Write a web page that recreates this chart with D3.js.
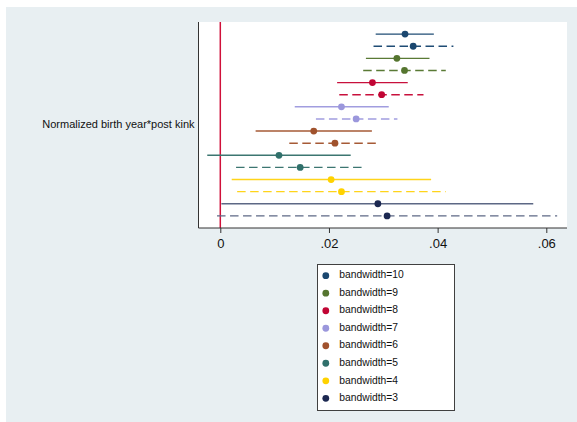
<!DOCTYPE html>
<html>
<head>
<meta charset="utf-8">
<script src="https://cdn.jsdelivr.net/npm/d3@7"></script>
<style>
  html, body { margin: 0; padding: 0; background: #ffffff; }
  svg { display: block; font-family: "Liberation Sans", Arial, sans-serif; }
</style>
</head>
<body>
<svg id="chart" width="577" height="422"></svg>
<script>
// Coefficient on normalized birth year * post kink, by bandwidth
const bandwidths = [10, 9, 8, 7, 6, 5, 4, 3];
// Solid lines: first specification
const estSolid = [0.0340, 0.0325, 0.0280, 0.0223, 0.0172, 0.0108, 0.0204, 0.0290];
const loSolid  = [0.0286, 0.0268, 0.0215, 0.0137, 0.0065, -0.0024, 0.0021, 0.0002];
const hiSolid  = [0.0393, 0.0385, 0.0345, 0.0310, 0.0279, 0.0240, 0.0388, 0.0576];
// Dashed lines: second specification
const estDash = [0.0355, 0.0339, 0.0297, 0.0250, 0.0211, 0.0147, 0.0223, 0.0307];
const loDash  = [0.0282, 0.0263, 0.0219, 0.0176, 0.0127, 0.0029, 0.0031, -0.0006];
const hiDash  = [0.0429, 0.0415, 0.0374, 0.0326, 0.0294, 0.0266, 0.0415, 0.0620];

const xTicks = [0, 0.02, 0.04, 0.06];
const xTickLabels = ["0", ".02", ".04", ".06"];
const yLabel = "Normalized birth year*post kink";

const markerColors = ["#1a476f", "#55752f", "#c10534", "#9b97dc", "#a0522d", "#30706b", "#ffd200", "#1c2851"];
const lineColors   = ["#1f4c75", "#5a7a35", "#c8103c", "#a19ddf", "#a65a36", "#3c7671", "#ffd41a", "#5d6885"];

const svg = d3.select("#chart");

// Outer panel background
svg.append("rect").attr("x", 6).attr("y", 7).attr("width", 571).attr("height", 415)
  .attr("fill", "#e8eff2");

const plot = { left: 198.5, right: 567, top: 22, bottom: 228 };

svg.append("rect")
  .attr("x", plot.left).attr("y", plot.top)
  .attr("width", plot.right - plot.left).attr("height", plot.bottom - plot.top)
  .attr("fill", "#ffffff");

const x = d3.scaleLinear().domain([0, 0.06]).range([220.3, 546.3]);

// one row per (bandwidth, specification) pair
const rows = [];
bandwidths.forEach((bw, i) => {
  rows.push({ key: bw + "s", bw, i, est: estSolid[i], lo: loSolid[i], hi: hiSolid[i], dashed: false });
  rows.push({ key: bw + "d", bw, i, est: estDash[i], lo: loDash[i], hi: hiDash[i], dashed: true });
});

const y = d3.scalePoint().domain(rows.map(r => r.key)).range([plot.top, plot.bottom]).padding(1);

// reference line at zero
svg.append("line")
  .attr("x1", x(0)).attr("x2", x(0))
  .attr("y1", plot.top).attr("y2", plot.bottom)
  .attr("stroke", "#d0103a").attr("stroke-width", 1.5);

const g = svg.append("g");

g.selectAll("line.ci").data(rows).join("line")
  .attr("class", "ci")
  .attr("x1", d => x(d.lo)).attr("x2", d => x(d.hi))
  .attr("y1", d => y(d.key)).attr("y2", d => y(d.key))
  .attr("stroke", d => lineColors[d.i])
  .attr("stroke-width", 1.4)
  .attr("stroke-dasharray", d => d.dashed ? "8.5,4.5" : null);

g.selectAll("circle.pt").data(rows).join("circle")
  .attr("class", "pt")
  .attr("cx", d => x(d.est)).attr("cy", d => y(d.key))
  .attr("r", 3.4)
  .attr("fill", d => markerColors[d.i]);

// axes
const xAxis = d3.axisBottom(x).tickValues(xTicks)
  .tickFormat((d, i) => xTickLabels[i]).tickSize(5).tickSizeOuter(0);
const ax = svg.append("g").attr("transform", `translate(0,${plot.bottom})`).call(xAxis);
ax.select(".domain").remove();
ax.selectAll(".tick line").attr("stroke", "#333333");
ax.selectAll(".tick text").attr("fill", "#111111").attr("font-size", 13)
  .attr("font-family", "'Liberation Sans', Arial, sans-serif").attr("dy", "0.95em");

svg.append("line").attr("x1", plot.left).attr("x2", plot.right)
  .attr("y1", plot.bottom).attr("y2", plot.bottom).attr("stroke", "#333333").attr("stroke-width", 1);
svg.append("line").attr("x1", plot.left).attr("x2", plot.left)
  .attr("y1", plot.top).attr("y2", plot.bottom).attr("stroke", "#333333").attr("stroke-width", 1);

svg.append("text")
  .attr("x", 194.5).attr("y", (plot.top + plot.bottom) / 2 + 0.5)
  .attr("text-anchor", "end").attr("dominant-baseline", "middle")
  .attr("font-size", 11).attr("fill", "#111111")
  .text(yLabel);

// legend
const legend = svg.append("g");
legend.append("rect")
  .attr("x", 317.5).attr("y", 264.5).attr("width", 137).attr("height", 146)
  .attr("fill", "#ffffff").attr("stroke", "#404040").attr("stroke-width", 1);

const ly = d3.scalePoint().domain(bandwidths).range([275.7, 398.3]);
const items = legend.selectAll("g.item").data(bandwidths).join("g").attr("class", "item");
items.append("circle")
  .attr("cx", 325.8).attr("cy", d => ly(d)).attr("r", 3.4)
  .attr("fill", (d, i) => markerColors[i]);
items.append("text")
  .attr("x", 339.3).attr("y", d => ly(d))
  .attr("dominant-baseline", "middle")
  .attr("font-size", 10.3).attr("fill", "#111111")
  .text(d => "bandwidth=" + d);
</script>
</body>
</html>
